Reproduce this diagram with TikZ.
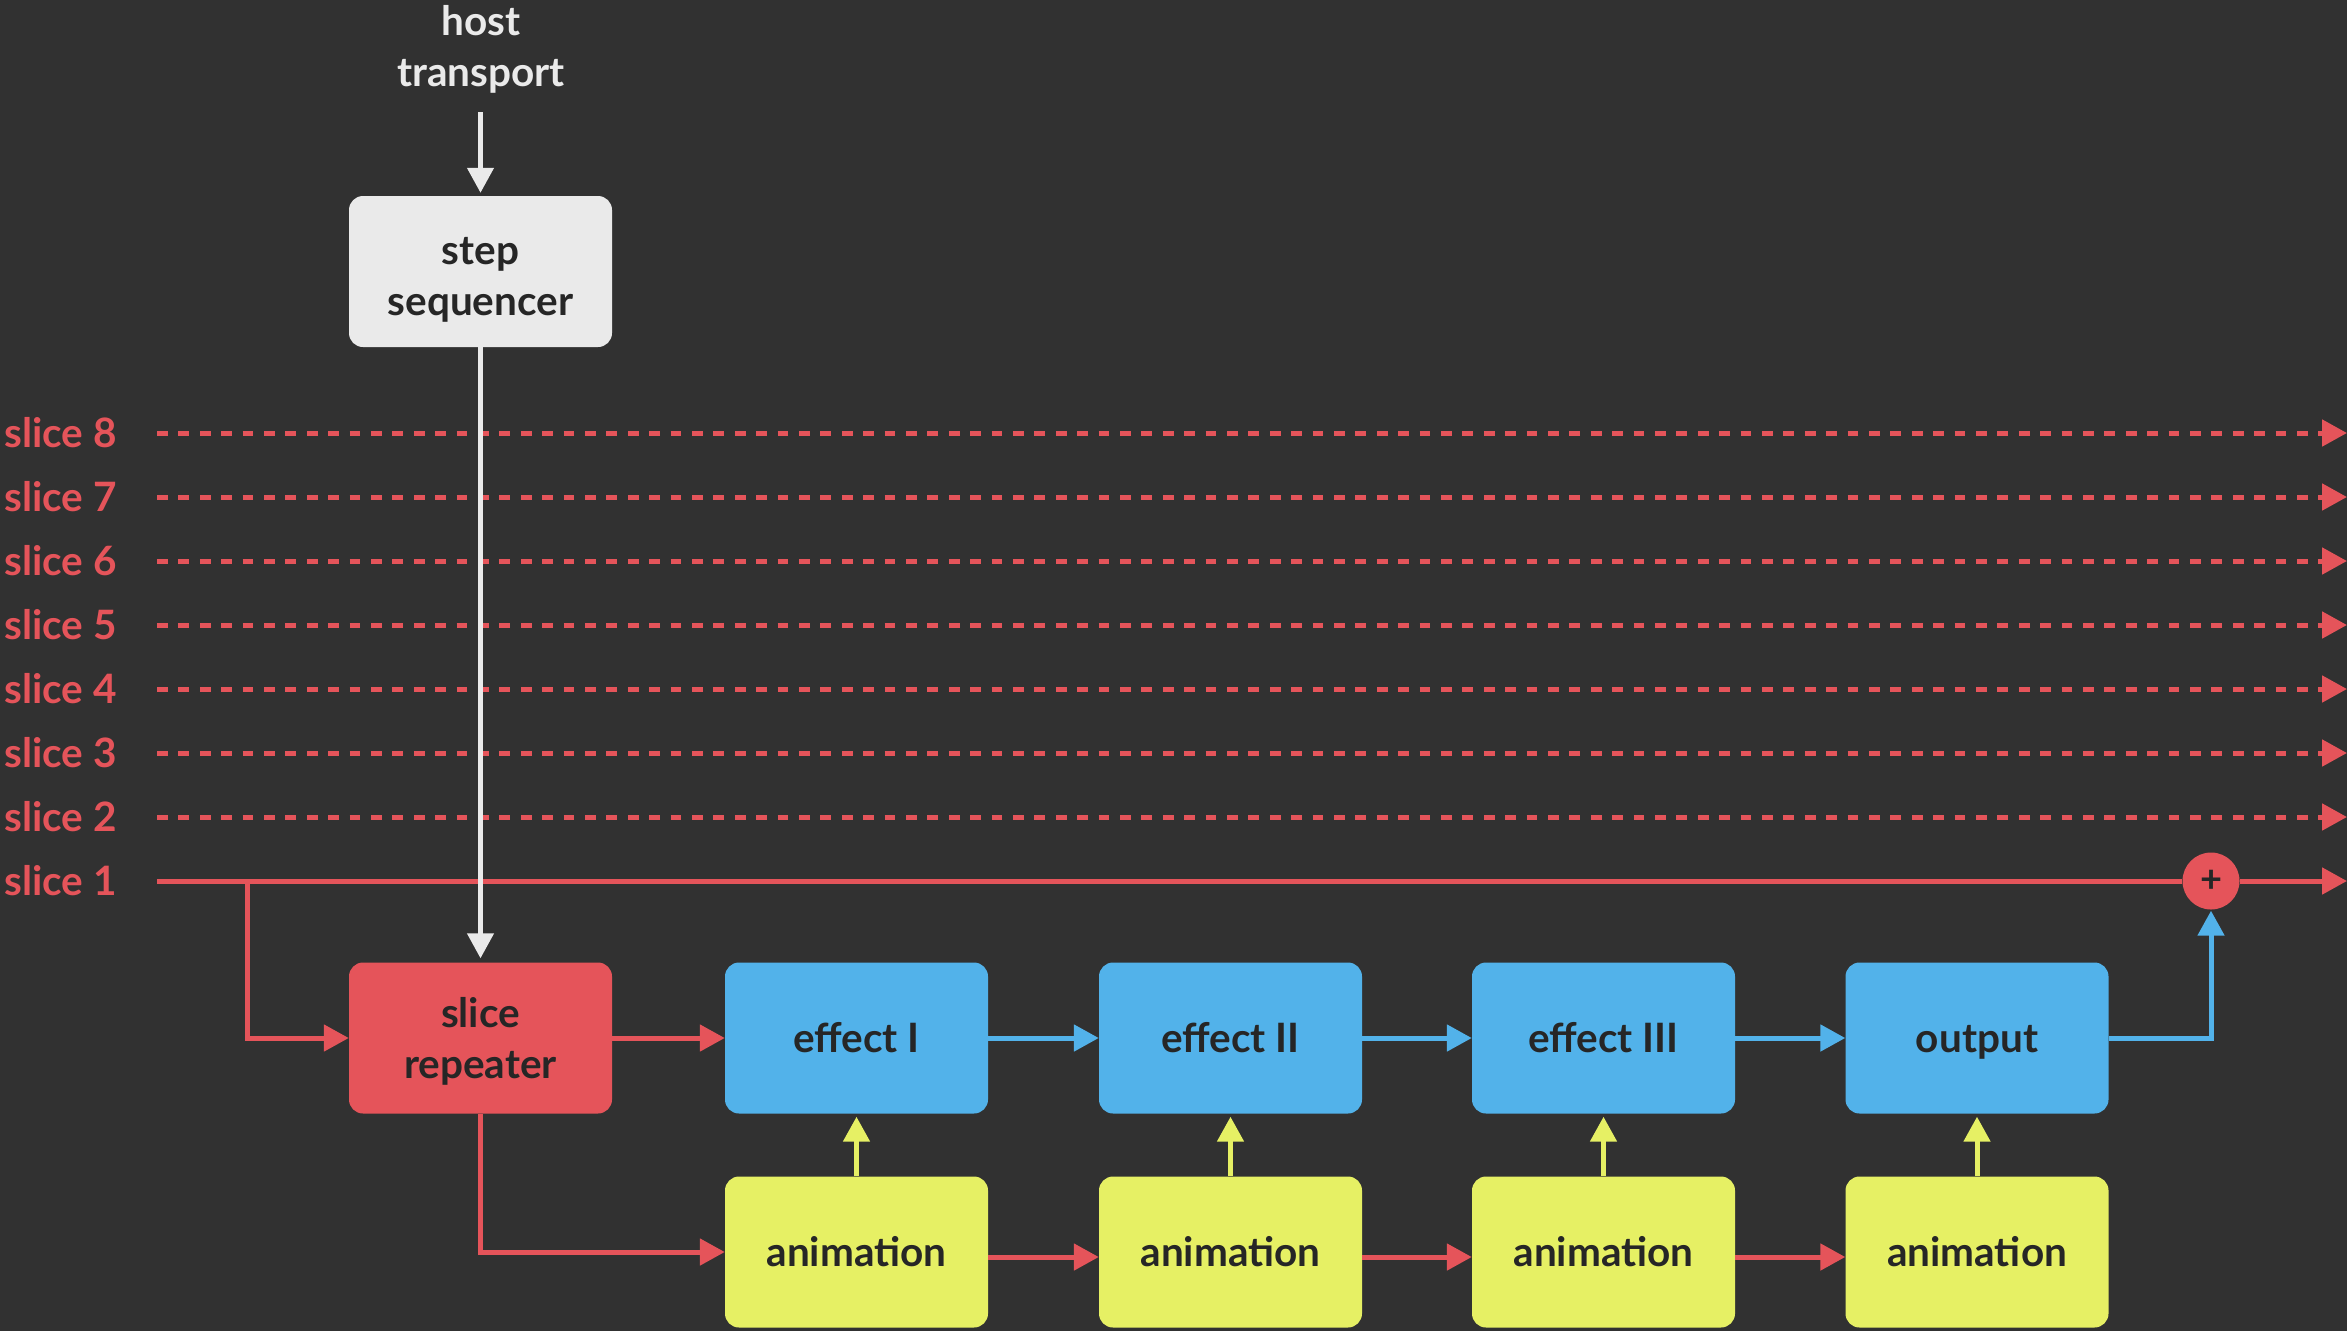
\documentclass[tikz,border=0pt]{standalone}
\usepackage{fontspec}
\setmainfont{Lato}
\usetikzlibrary{arrows.meta}
\definecolor{bg}{HTML}{313131}
\definecolor{cred}{HTML}{E5545A}
\definecolor{cblue}{HTML}{52B2EA}
\definecolor{cyel}{HTML}{E6F064}
\definecolor{cgray}{HTML}{EAEAEA}
\definecolor{ctext}{HTML}{262626}
\newcommand\myfont{\fontsize{40.5}{51}\selectfont\bfseries}
\newcommand\mys{\rule[-11pt]{0pt}{51pt}}
\newcommand\myt{\rule[-7pt]{0pt}{51pt}}
\begin{document}
\begin{tikzpicture}[x=1pt,y=-1pt,
  box/.style={rounded corners=14pt, minimum width=263pt, minimum height=151pt, align=center, inner sep=0pt, font=\myfont, text=ctext},
  lbl/.style={font=\myfont, text=cred, anchor=west, inner sep=0pt},
  tip/.style={-{Triangle[length=25pt,width=26pt]}},
  rline/.style={draw=cred, line width=5pt},
  rarrow/.style={rline, tip},
  rdash/.style={rline, tip, dash pattern=on 10.7pt off 10.7pt},
  barrow/.style={draw=cblue, line width=5pt, tip},
  yarrow/.style={draw=cyel, line width=5pt, tip, shorten >=3pt},
  warrow/.style={draw=cgray, line width=4.5pt, tip}
]
\fill[bg] (0,0) rectangle (2347,1331);
\useasboundingbox (0,0) rectangle (2347,1331);

% host transport
\node[font=\myfont, text=cgray, align=center, inner sep=0pt] (host) at (481,49) {host\\transport};
\coordinate (hs) at (480.5,112);

% boxes
\node[box, fill=cgray] (seq) at (480.5,271.5) {step\myt\\sequencer\myt};
\node[box, fill=cred]  (rep) at (480.5,1038) {slice\mys\\repeater\mys};
\node[box, fill=cblue] (e1)  at (856.5,1038) {effect I\mys};
\node[box, fill=cblue] (e2)  at (1230.5,1038) {effect II\mys};
\node[box, fill=cblue] (e3)  at (1603.5,1038) {effect III\mys};
\node[box, fill=cblue] (out) at (1977,1038) {output\mys};
\node[box, fill=cyel]  (a1)  at (856.5,1252) {animation\mys};
\node[box, fill=cyel]  (a2)  at (1230.5,1252) {animation\mys};
\node[box, fill=cyel]  (a3)  at (1603.5,1252) {animation\mys};
\node[box, fill=cyel]  (a4)  at (1977,1252) {animation\mys};
\node[circle, fill=cred, minimum size=57pt, inner sep=0pt, text=ctext, font=\fontsize{38}{38}\selectfont\bfseries] (plus) at (2211,881) {+};

% slice lines
\foreach \i/\y in {8/433,7/497,6/561,5/625,4/689,3/753,2/817}{
  \node[lbl] (l\i) at (4,\y) {slice \i};
  \coordinate (sa\i) at (157,\y);
  \coordinate (sb\i) at (2347,\y);
  \draw[rdash] (sa\i) -- (sb\i);
}
\node[lbl] (l1) at (4,881) {slice 1};
\coordinate (sa1) at (157,881);
\coordinate (sb1) at (2347,881);
\coordinate (br) at (247,881);
\draw[rline] (sa1) -- (plus.west);
\draw[rarrow] (plus.east) -- (sb1);
\draw[rline, tip] (br) |- (rep.west);

% white
\draw[warrow] (hs) -- ([yshift=3pt]seq.north);
\draw[warrow, shorten >=4pt] (seq.south) -- (rep.north);

% red
\draw[rarrow] (rep.east) -- (e1.west);
\draw[rarrow] (rep.south) |- (a1.west);
\draw[rarrow] ([yshift=-5pt]a1.east) -- ([yshift=-5pt]a2.west);
\draw[rarrow] ([yshift=-5pt]a2.east) -- ([yshift=-5pt]a3.west);
\draw[rarrow] ([yshift=-5pt]a3.east) -- ([yshift=-5pt]a4.west);

% blue
\draw[barrow] (e1.east) -- (e2.west);
\draw[barrow] (e2.east) -- (e3.west);
\draw[barrow] (e3.east) -- (out.west);
\draw[barrow, shorten >=1pt] (out.east) -| (plus.south);

% yellow
\draw[yarrow] (a1.north) -- (e1.south);
\draw[yarrow] (a2.north) -- (e2.south);
\draw[yarrow] (a3.north) -- (e3.south);
\draw[yarrow] (a4.north) -- (out.south);
\end{tikzpicture}
\end{document}
